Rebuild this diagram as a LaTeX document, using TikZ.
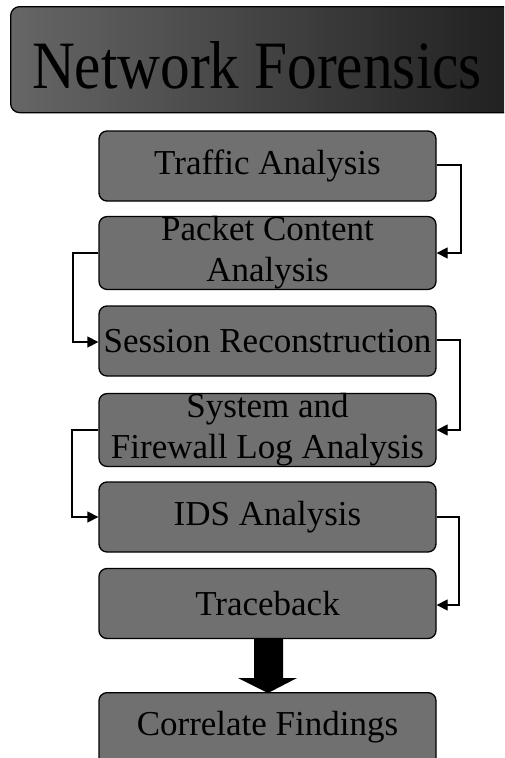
\documentclass[tikz,border=0pt]{standalone}
\usepackage{fontspec}
\setmainfont{Liberation Serif}
\usetikzlibrary{arrows.meta}
\tikzset{
  stepbox/.style={draw=black, line width=1.3pt, fill=black!56, rounded corners=8pt,
    minimum width=337pt, minimum height=70pt, inner sep=0pt, align=center,
    font=\fontsize{35}{41}\selectfont, text=black},
  flow/.style={draw=black, line width=1.3pt, -{Triangle[length=11pt,width=11pt]}},
}
\begin{document}
\begin{tikzpicture}[x=1pt,y=-1pt]
\useasboundingbox (0,0) rectangle (504,758);
\clip (0,0) rectangle (504,758);
% title
\node[draw=black, line width=1.3pt, rounded corners=9pt, left color=black!60, right color=black!88,
  minimum width=512pt, minimum height=106pt, inner sep=0pt, anchor=north west] (title) at (10,6) {};
\node[anchor=base, inner sep=0pt] (titletext) at (257,88)
  {\resizebox{450pt}{47pt}{\fontsize{56}{56}\selectfont Network Forensics}};
% steps
\node[stepbox] (traffic) at (267.5,166) {Traffic Analysis};
\node[stepbox] (packet) at (267.5,253) {Packet Content\\Analysis};
\node[stepbox] (session) at (267.5,341) {Session Reconstruction};
\node[stepbox] (system) at (267.5,430) {System and\\Firewall Log Analysis};
\node[stepbox] (ids) at (267.5,517) {IDS Analysis};
\node[stepbox] (trace) at (267.5,603.5) {Traceback};
\node[stepbox, minimum height=90pt, anchor=north] (correlate) at (267.5,692) {};
\node[font=\fontsize{35}{41}\selectfont, anchor=base, inner sep=0pt] (corrtext) at (267.5,735) {Correlate Findings};
% connectors
\draw[flow] (traffic.east |- 0,165) -| (461,209) |- (packet.east |- 0,253);
\draw[flow] (packet.west |- 0,253) -| (73,300) |- (session.west |- 0,342);
\draw[flow] (session.east |- 0,340) -| (460,385) |- (system.east |- 0,430);
\draw[flow] (system.west |- 0,430) -| (72,475) |- (ids.west |- 0,517);
\draw[flow] (ids.east |- 0,517) -| (459,560) |- (trace.east |- 0,605);
% block arrow from traceback to correlate findings
\fill[black] (254,638) -- (283,638) -- (283,678) -- (297,678) -- (268,693) -- (238,678) -- (254,678) -- cycle;
\end{tikzpicture}
\end{document}
